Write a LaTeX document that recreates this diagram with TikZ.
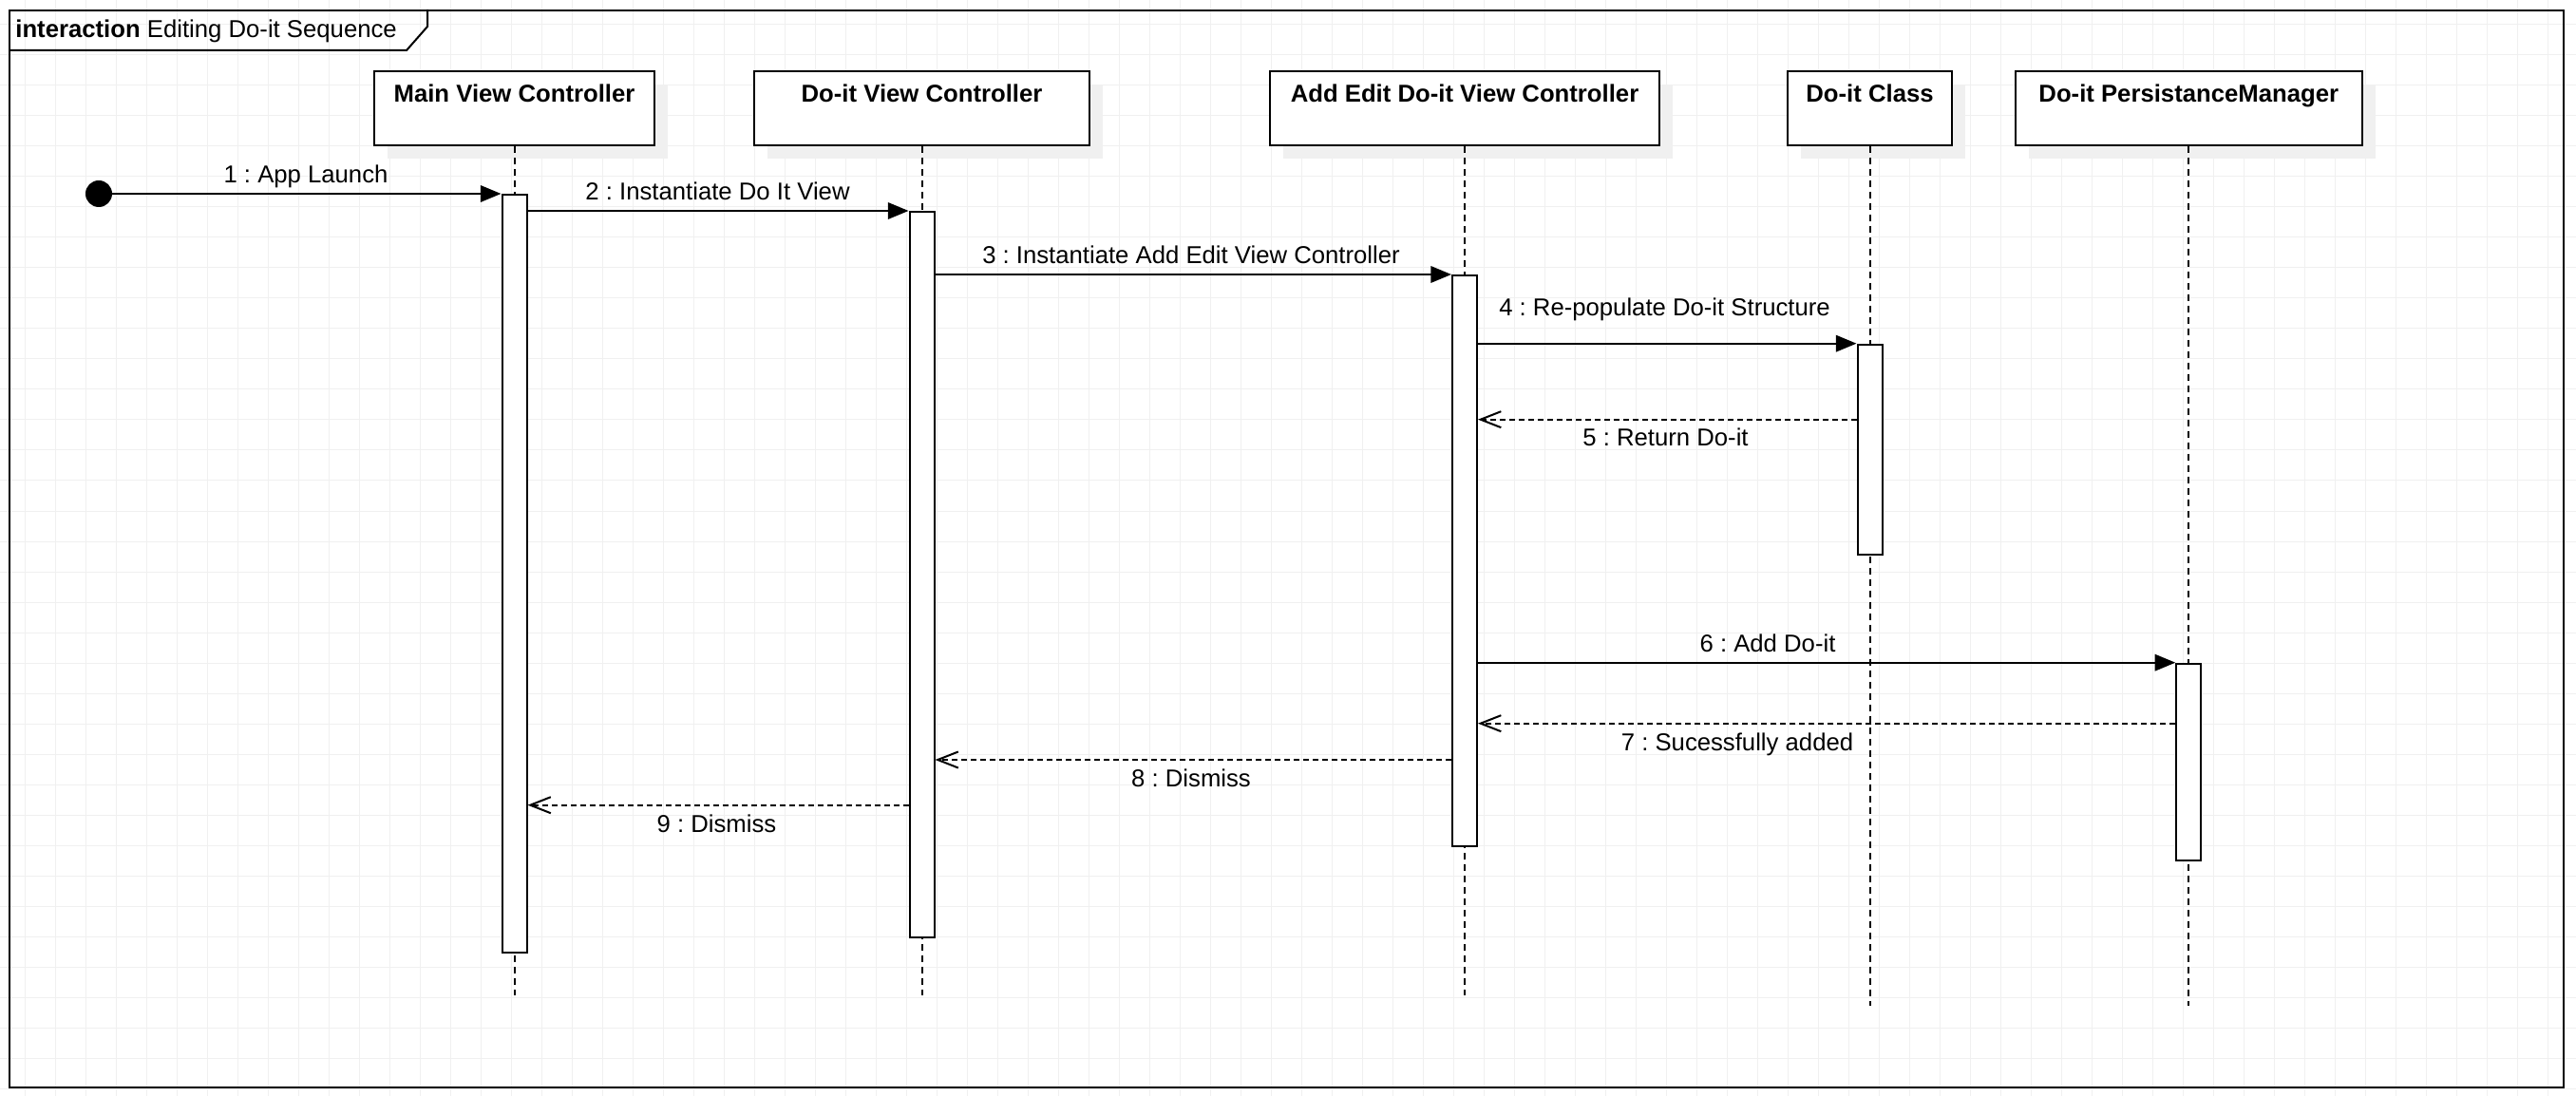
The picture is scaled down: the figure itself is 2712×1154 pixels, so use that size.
\documentclass[tikz,border=0pt]{standalone}
\usepackage{fontspec}
\setmainfont{Liberation Sans}
\usetikzlibrary{arrows.meta,shadows}
\frenchspacing

\begin{document}
\begin{tikzpicture}[x=0.5pt,y=-0.5pt,
  txt/.style={font=\fontsize{12.85}{15}\selectfont, inner sep=0pt},
  hdrtxt/.style={font=\fontsize{12.85}{15}\selectfont\bfseries, inner sep=0pt, anchor=base},
  gridline/.style={draw=black!6, line width=0.5pt},
  lifebox/.style={draw, line width=1pt, fill=white, minimum height=39pt, inner sep=0pt, anchor=north,
    drop shadow={shadow xshift=7pt, shadow yshift=-7pt, fill=black!6, opacity=1}},
  bar/.style={draw, line width=1pt, fill=white, minimum width=13pt, inner sep=0pt, anchor=north},
  lifeline/.style={line width=1pt, dash pattern=on 3.5pt off 2.5pt},
  call/.style={line width=1pt, -{Triangle[length=10.8pt,width=8.7pt]}},
  reply/.style={line width=1pt, dash pattern=on 3pt off 2pt, -{Straight Barb[length=10.8pt,width=8.5pt]}},
  lbl/.style={txt, anchor=base},
]
\useasboundingbox (0,0) rectangle (2712,1154);

% paper with light grid
\fill[white] (0,0) rectangle (2712,1154);
\foreach \gx in {26,58,...,2700} \draw[gridline] (\gx,0) -- (\gx,1154);
\foreach \gy in {26,58,...,1154} \draw[gridline] (0,\gy) -- (2712,\gy);

% interaction frame and its name tab
\node[draw, line width=1.1pt, minimum width=1344.5pt, minimum height=567pt, inner sep=0pt, anchor=north west] (frame) at (9,10) {};
\draw[line width=1pt] (9,53) -- (428,53) -- (450,28) -- (450,10);
\node[txt, anchor=base west] (title) at (16,40) {\textbf{interaction} Editing Do-it Sequence};

% message heights
\coordinate (m1) at (0,204);
\coordinate (m2) at (0,222);
\coordinate (m3) at (0,289);
\coordinate (m4) at (0,361.7);
\coordinate (m5) at (0,441.7);
\coordinate (m6) at (0,697.7);
\coordinate (m7) at (0,761.7);
\coordinate (m8) at (0,800);
\coordinate (m9) at (0,847.7);
\coordinate (endA) at (0,1048);
\coordinate (endB) at (0,1059);

% lifeline heads
\node[lifebox, minimum width=147.5pt] (hM) at (541.5,74) {};
\node[lifebox, minimum width=176.5pt] (hV) at (970.5,74) {};
\node[lifebox, minimum width=205pt] (hA) at (1542,74) {};
\node[lifebox, minimum width=86.5pt] (hC) at (1968.5,74) {};
\node[lifebox, minimum width=182.75pt] (hP) at (2304.25,74) {};
\node[hdrtxt] (tM) at (541.5,108) {Main View Controller};
\node[hdrtxt] (tV) at (970.5,108) {Do-it View Controller};
\node[hdrtxt] (tA) at (1542,108) {Add Edit Do-it View Controller};
\node[hdrtxt] (tC) at (1968.5,108) {Do-it Class};
\node[hdrtxt] (tP) at (2304.25,108) {Do-it PersistanceManager};

% lifelines
\draw[lifeline] (hM.south) -- (hM.south |- endA);
\draw[lifeline] (hV.south) -- (hV.south |- endA);
\draw[lifeline] (hA.south) -- (hA.south |- endA);
\draw[lifeline] (hC.south) -- (hC.south |- endB);
\draw[lifeline] (hP.south) -- (hP.south |- endB);

% activations
\node[bar, minimum height=399pt] (bM) at (hM.south |- m1) {};
\node[bar, minimum height=382pt] (bV) at (hV.south |- m2) {};
\node[bar, minimum height=300.5pt] (bA) at (hA.south |- m3) {};
\node[bar, minimum height=110.7pt] (bC) at (hC.south |- m4) {};
\node[bar, minimum height=103.6pt] (bP) at (hP.south |- m6) {};

% found message start
\node[circle, fill=black, minimum size=14pt, inner sep=0pt] (start) at (104,204) {};

% messages
\draw[call] (start) -- (bM.north west);
\draw[call] (bM.east |- m2) -- (bV.north west);
\draw[call] (bV.east |- m3) -- (bA.north west);
\draw[call] (bA.east |- m4) -- (bC.north west);
\draw[reply] (bC.west |- m5) -- (bA.east |- m5);
\draw[call] (bA.east |- m6) -- (bP.north west);
\draw[reply] (bP.west |- m7) -- (bA.east |- m7);
\draw[reply] (bA.west |- m8) -- (bV.east |- m8);
\draw[reply] (bV.west |- m9) -- (bM.east |- m9);

% message labels
\node[lbl] (l1) at (322,193) {1 : App Launch};
\node[lbl] (l2) at (755.5,211) {2 : Instantiate Do It View};
\node[lbl] (l3) at (1254,278) {3 : Instantiate Add Edit View Controller};
\node[lbl] (l4) at (1752.5,333) {4 : Re-populate Do-it Structure};
\node[lbl] (l5) at (1753.5,470) {5 : Return Do-it};
\node[lbl] (l6) at (1861,686) {6 : Add Do-it};
\node[lbl] (l7) at (1829,790) {7 : Sucessfully added};
\node[lbl] (l8) at (1254,828) {8 : Dismiss};
\node[lbl] (l9) at (754.5,876) {9 : Dismiss};
\end{tikzpicture}
\end{document}
